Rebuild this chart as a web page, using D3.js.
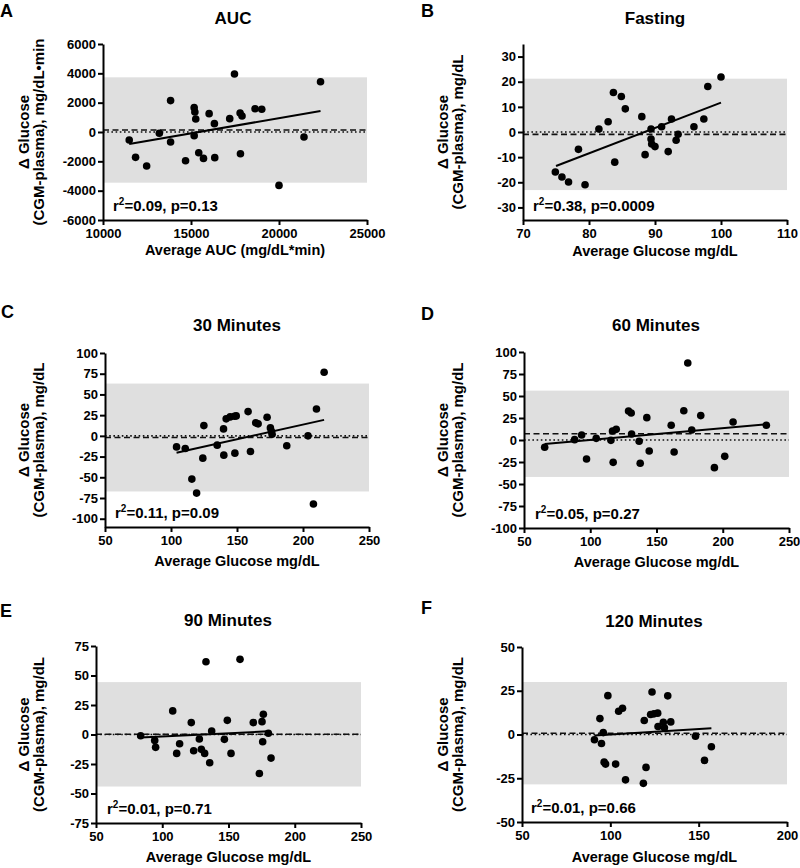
<!DOCTYPE html>
<html><head><meta charset="utf-8">
<script src="https://cdn.jsdelivr.net/npm/d3@7"></script>
<style>
html,body{margin:0;padding:0;background:#fff;}
svg{display:block;font-family:"Liberation Sans",Arial,sans-serif;font-weight:bold;}
</style></head>
<body>
<svg id="c" width="800" height="868"></svg>
<script>
// ---------- DATA ----------
const panelLetters = ["A","B","C","D","E","F"];
const panelTitles = ["AUC","Fasting","30 Minutes","60 Minutes","90 Minutes","120 Minutes"];
const xTitles = ["Average AUC (mg/dL*min)","Average Glucose mg/dL","Average Glucose mg/dL","Average Glucose mg/dL","Average Glucose mg/dL","Average Glucose mg/dL"];
const yTitleLine1 = "\u0394 Glucose";
const yTitleLine2 = ["(CGM-plasma), mg/dL\u2022min","(CGM-plasma), mg/dL","(CGM-plasma), mg/dL","(CGM-plasma), mg/dL","(CGM-plasma), mg/dL","(CGM-plasma), mg/dL"];

const xDomains = [[10000,25000],[70,110],[50,250],[50,250],[50,250],[50,200]];
const yDomains = [[-6000,6000],[-35,35],[-110,100],[-100,100],[-75,75],[-50,50]];
const xTickValues = [[10000,15000,20000,25000],[70,80,90,100,110],[50,100,150,200,250],[50,100,150,200,250],[50,100,150,200,250],[50,100,150,200]];
const yTickValues = [[-6000,-4000,-2000,0,2000,4000,6000],[-30,-20,-10,0,10,20,30],[-100,-75,-50,-25,0,25,50,75,100],[-100,-75,-50,-25,0,25,50,75,100],[-75,-50,-25,0,25,50,75],[-50,-25,0,25,50]];

const aucX = [11490,11850,12480,13200,13840,13840,14690,15180,15220,15270,15180,15440,15710,16030,16330,16350,17200,17470,17790,17810,17900,18640,19020,20000,21420,22360];
const aucY = [-550,-1730,-2320,-90,2140,-680,-1960,1660,1360,890,-250,-1410,-1800,1250,570,-1750,910,3950,1300,-1480,1090,1590,1550,-3640,-340,3430];

const fastX = [74.9,75.9,76.9,78.4,79.4,81.5,82.9,83.7,83.9,84.9,85.5,88.0,88.5,89.4,89.4,89.5,90.0,91.0,92.5,92.0,93.2,93.5,95.9,97.4,98.0,100.0];
const fastY = [-15.9,-17.9,-19.9,-6.9,-21.0,1.2,4.1,15.7,-12.0,14.1,9.2,6.1,-9.0,1.2,-2.8,-4.8,-5.8,2.1,5.2,-7.8,-3.3,-0.9,2.1,5.2,18.1,21.9];

const m30X = [104.2,110.8,115.8,119.4,124.1,124.9,135.0,139.8,140.0,141.8,144.8,148.1,149.4,148.4,158.4,160.2,164.2,166.0,172.8,175.3,176.1,176.6,187.7,203.8,207.9,210.2,216.0];
const m30Y = [-13.3,-15.3,-52.2,-69.1,-26.9,12.4,-11.2,8.4,-23.3,20.5,22.9,23.7,24.1,-20.9,29.3,-18.9,15.7,14.5,22.5,9.6,5.6,2.0,-12.0,0,-82.3,32.5,76.7];

const m60X = [65.6,88.2,93.5,97.2,104.5,115.6,116.8,117.3,119.6,128.9,130.9,131.2,136.9,137.7,142.7,144.5,161.1,163.3,170.6,173.6,176.6,183.4,193.7,201.5,207.8,232.9];
const m60Y = [-8.3,0.4,5.7,-21.6,1.9,-0.4,10.2,-25.4,12.1,33.0,30.7,6.8,-1.5,-26.5,25.4,-12.5,16.7,-13.6,33.3,87.5,11.4,27.7,-31.4,-18.6,20.5,16.7];

const m90X = [83.7,94.3,95.0,107.9,110.9,113.1,121.9,123.7,128.0,129.5,132.0,133.0,135.8,137.3,146.9,149.1,151.9,158.7,168.7,173.3,175.3,176.3,175.8,180.1,182.1];
const m90Y = [-1.0,-5.0,-10.9,20.0,-16.0,-7.8,10.1,-13.8,-3.8,-12.6,-16.0,61.7,-24.0,3.0,-4.1,12.0,-16.0,63.7,10.1,-33.0,10.9,17.2,-6.1,1.0,-20.0];

const m120X = [91.0,94.1,95.0,96.0,96.5,97.3,98.6,103.0,104.7,106.9,108.6,119.2,120.2,118.7,123.6,122.8,124.7,126.8,127.0,130.0,130.6,132.5,134.2,148.2,153.3,157.2];
const m120Y = [-3.0,9.1,-5.1,1.1,-15.8,-16.9,22.2,-16.9,13.3,15.0,-25.9,8.0,-18.8,-27.9,24.3,11.4,11.8,12.2,4.6,7.0,3.8,22.1,7.2,-1.0,-14.8,-7.0];

// limits of agreement [lower, upper] and mean bias
const limitsOfAgreement = [[-3455,3727],[-23.1,21.2],[-67.1,63.1],[-42.0,56.1],[-44.1,44.4],[-28.5,30.0]];
const meanBias = [136,-0.95,-2.0,7.05,0.15,0.75];
// regression line end points
const fitLines = [
  [[11490,-818],[22360,1432]],
  [[75,-13.5],[100,11.7]],
  [[104.2,-20.5],[216,19.3]],
  [[65.6,-4.5],[232.9,17.8]],
  [[83.7,-2.5],[180.1,2.7]],
  [[91,-0.6],[157.2,3.6]]
];
const r2Values = ["0.09","0.38","0.11","0.05","0.01","0.01"];
const pValues = ["0.13","0.0009","0.09","0.27","0.71","0.66"];

const seriesX = [aucX,fastX,m30X,m60X,m90X,m120X];
const seriesY = [aucY,fastY,m30Y,m60Y,m90Y,m120Y];

// ---------- LAYOUT ----------
const layout = [
  {l:103,r:367,t:44,b:220, letter:[0,17], title:[233,24], yl1:29, yl2:44, xtBase:255, statX:113},
  {l:523,r:787,t:44,b:220, letter:[421,17], title:[655,24], yl1:448, yl2:463, xtBase:256, statX:533},
  {l:105,r:369,t:353,b:527, letter:[1,318], title:[237,331], yl1:29, yl2:44, xtBase:566, statX:115},
  {l:524,r:789,t:352,b:528, letter:[421,320], title:[656,331], yl1:448, yl2:463, xtBase:567, statX:535},
  {l:96,r:361,t:646,b:823, letter:[0,617], title:[228,626], yl1:29, yl2:44, xtBase:862, statX:107},
  {l:522,r:787,t:647,b:822, letter:[421,614], title:[654,627], yl1:448, yl2:463, xtBase:862, statX:531}
];

const svg = d3.select("#c");

layout.forEach((L, i) => {
  const x = d3.scaleLinear().domain(xDomains[i]).range([L.l, L.r]);
  const y = d3.scaleLinear().domain(yDomains[i]).range([L.b, L.t]);
  const g = svg.append("g");

  // shaded limits of agreement
  const loa = limitsOfAgreement[i];
  g.append("rect")
    .attr("x", x(xDomains[i][0])).attr("width", x(xDomains[i][1]) - x(xDomains[i][0]))
    .attr("y", y(loa[1])).attr("height", y(loa[0]) - y(loa[1]))
    .attr("fill", "#dfdfdf");

  // zero dotted line
  g.append("line").attr("x1", L.l).attr("x2", L.r).attr("y1", y(0)).attr("y2", y(0))
    .attr("stroke", "#111").attr("stroke-width", 1.6).attr("stroke-dasharray", "1.6,2.6");
  // mean bias dashed line
  g.append("line").attr("x1", L.l).attr("x2", L.r).attr("y1", y(meanBias[i])).attr("y2", y(meanBias[i]))
    .attr("stroke", "#111").attr("stroke-width", 1.6).attr("stroke-dasharray", "6,3.5");

  // points
  const pts = seriesX[i].map((v, k) => [v, seriesY[i][k]]);
  g.selectAll("circle.pt").data(pts).enter().append("circle")
    .attr("cx", d => x(d[0])).attr("cy", d => y(d[1])).attr("r", 3.8).attr("fill", "#000");

  // regression line
  g.append("path").datum(fitLines[i])
    .attr("d", d3.line().x(d => x(d[0])).y(d => y(d[1])))
    .attr("stroke", "#000").attr("stroke-width", 2).attr("fill", "none");

  // axes
  const ax = g.append("g").attr("transform", `translate(0,${L.b})`)
    .call(d3.axisBottom(x).tickValues(xTickValues[i]).tickFormat(d3.format("d")).tickSize(5).tickPadding(4).tickSizeOuter(0));
  const ay = g.append("g").attr("transform", `translate(${L.l},0)`)
    .call(d3.axisLeft(y).tickValues(yTickValues[i]).tickFormat(d3.format("d")).tickSize(5).tickPadding(2).tickSizeOuter(0));
  [ax, ay].forEach(a => {
    a.select(".domain").attr("stroke", "#000").attr("stroke-width", 2);
    a.selectAll(".tick line").attr("stroke", "#000").attr("stroke-width", 2);
    a.selectAll(".tick text").attr("fill", "#000").style("font-size", "13px").style("font-weight", "bold")
      .style("font-family", "'Liberation Sans', Arial, sans-serif");
  });
  ay.selectAll(".tick text").text(d => d < 0 ? "-" + Math.abs(d) : d);

  // texts
  svg.append("text").attr("x", L.letter[0]).attr("y", L.letter[1]).text(panelLetters[i])
    .style("font-size", "18px");
  svg.append("text").attr("x", L.title[0]).attr("y", L.title[1]).attr("text-anchor", "middle")
    .text(panelTitles[i]).style("font-size", "17px");
  svg.append("text").attr("x", (L.l + L.r) / 2).attr("y", L.xtBase).attr("text-anchor", "middle")
    .text(xTitles[i]).style("font-size", "14.5px");
  const cy = (L.t + L.b) / 2;
  svg.append("text").attr("transform", `translate(${L.yl1},${cy}) rotate(-90)`).attr("text-anchor", "middle")
    .text(yTitleLine1).style("font-size", "15px");
  svg.append("text").attr("transform", `translate(${L.yl2},${cy}) rotate(-90)`).attr("text-anchor", "middle")
    .text(yTitleLine2[i]).style("font-size", "15px");

  const st = svg.append("text").attr("x", L.statX).attr("y", L.b - 9).style("font-size", "15px");
  st.append("tspan").text("r");
  st.append("tspan").attr("dy", -6).style("font-size", "10px").text("2");
  st.append("tspan").attr("dy", 6).text(`=${r2Values[i]}, p=${pValues[i]}`);
});
</script>
</body></html>
